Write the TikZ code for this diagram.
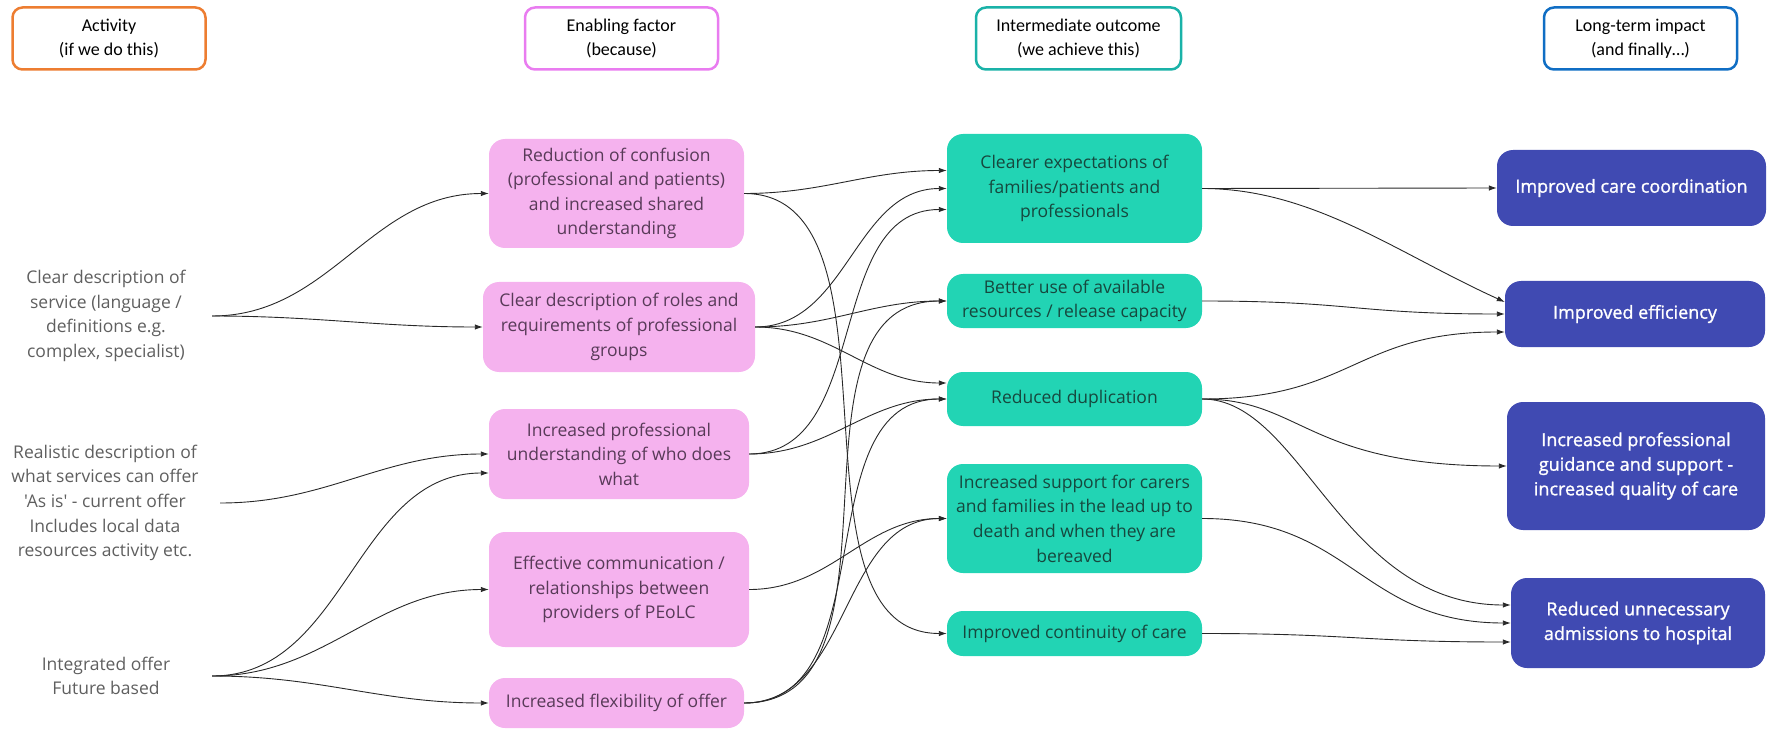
\documentclass[tikz,border=0pt]{standalone}
\usepackage{fontspec}
\setmainfont{Open Sans}
\newfontfamily\hdrfont{Carlito}
\newfontfamily\actfont{Open Sans}
\newfontfamily\bluefont[FakeBold=1.2]{Open Sans}
\usetikzlibrary{calc,arrows.meta}
\definecolor{pinkfill}{RGB}{245,178,238}
\definecolor{pinktext}{RGB}{88,58,88}
\definecolor{tealfill}{RGB}{34,212,180}
\definecolor{tealtext}{RGB}{22,72,62}
\definecolor{bluefill}{RGB}{64,74,178}
\definecolor{acttext}{RGB}{95,95,95}
\definecolor{horange}{RGB}{237,125,49}
\definecolor{hpink}{RGB}{233,124,240}
\definecolor{hteal}{RGB}{26,178,168}
\definecolor{hblue}{RGB}{16,110,196}
\definecolor{lincol}{RGB}{40,40,40}
\begin{document}
\begin{tikzpicture}[x=1pt,y=-1pt,
  hdr/.style={draw, line width=2.5pt, rounded corners=10pt, fill=white, font=\hdrfont\fontsize{18}{24}\selectfont, align=center, inner sep=0pt, minimum height=62pt},
  box/.style={rounded corners=16pt, align=center, inner sep=0pt, font=\fontsize{17.5}{24.6}\selectfont},
  pbox/.style={box, fill=pinkfill, text=pinktext},
  tbox/.style={box, fill=tealfill, text=tealtext},
  bbox/.style={box, fill=bluefill, text=white, font=\bluefont\fontsize{18}{24.6}\selectfont},
  act/.style={align=center, inner sep=0pt, text=acttext, font=\actfont\fontsize{17.5}{24.6}\selectfont},
  arr/.style={draw=lincol, line width=0.9pt, -{Latex[length=8pt,width=5.5pt]}},
  sc/.style={out=0, in=180},
]
\useasboundingbox (0,0) rectangle (1773,730);

% headers
\node[hdr, draw=horange, minimum width=193pt] (hA) at (109,38.5) {Activity\\(if we do this)};
\node[hdr, draw=hpink, minimum width=193pt] (hE) at (621.5,38.5) {Enabling factor\\(because)};
\node[hdr, draw=hteal, minimum width=205pt] (hI) at (1078.5,38.5) {Intermediate outcome\\(we achieve this)};
\node[hdr, draw=hblue, minimum width=193pt] (hL) at (1640.5,38.5) {Long-term impact\\(and finally…)};

% activities
\node[act, minimum width=212pt] (a1) at (106,316) {Clear description of\\service (language /\\definitions e.g.\\complex, specialist)};
\node[act, minimum width=230pt] (a2) at (105,503) {Realistic description of\\what services can offer\\'As is' - current offer\\Includes local data\\resources activity etc.};
\node[act, minimum width=212pt] (a3) at (106,676) {Integrated offer\\Future based};

% enabling factors
\node[pbox, minimum width=255pt, minimum height=109pt] (p1) at (616.5,193.5) {Reduction of confusion\\(professional and patients)\\and increased shared\\understanding};
\node[pbox, minimum width=272pt, minimum height=90pt] (p2) at (619,327) {Clear description of roles and\\requirements of professional\\groups};
\node[pbox, minimum width=260pt, minimum height=90pt] (p3) at (619,454) {Increased professional\\understanding of who does\\what};
\node[pbox, minimum width=260pt, minimum height=115pt] (p4) at (619,589.5) {Effective communication /\\relationships between\\providers of PEoLC};
\node[pbox, minimum width=255pt, minimum height=50pt] (p5) at (616.5,703) {Increased flexibility of offer};

% intermediate outcomes
\node[tbox, minimum width=255pt, minimum height=109pt] (t1) at (1074.5,188.5) {Clearer expectations of\\families/patients and\\professionals};
\node[tbox, minimum width=255pt, minimum height=54pt] (t2) at (1074.5,301) {Better use of available\\resources / release capacity};
\node[tbox, minimum width=255pt, minimum height=54pt] (t3) at (1074.5,399) {Reduced duplication};
\node[tbox, minimum width=255pt, minimum height=109pt] (t4) at (1074.5,518.5) {Increased support for carers\\and families in the lead up to\\death and when they are\\bereaved};
\node[tbox, minimum width=255pt, minimum height=45pt] (t5) at (1074.5,633.5) {Improved continuity of care};

% long-term impacts
\node[bbox, minimum width=269pt, minimum height=76pt] (b1) at (1631.5,188) {Improved care coordination};
\node[bbox, minimum width=260pt, minimum height=66pt] (b2) at (1635,314) {Improved efficiency};
\node[bbox, minimum width=258pt, minimum height=128pt] (b3) at (1636,466) {Increased professional\\guidance and support -\\increased quality of care};
\node[bbox, minimum width=254pt, minimum height=90pt] (b4) at (1638,623) {Reduced unnecessary\\admissions to hospital};

% activity -> enabling
\draw[arr] (a1.east) to[sc] (p1.west);
\draw[arr] (a1.east) to[sc] (p2.west);
\draw[arr] (a2.east) to[sc] (p3.west);
\draw[arr] (a3.east) to[sc] ($(p3.west)+(0,19)$);
\draw[arr] (a3.east) to[sc] (p4.west);
\draw[arr] (a3.east) to[sc] (p5.west);

% enabling -> intermediate
\draw[arr] (p1.east) to[sc] ($(t1.west)+(0,-18)$);
\draw[arr] (p1.east) .. controls +(170,0) and +(-170,0) .. (t5.west);
\draw[arr] (p2.east) to[sc] (t1.west);
\draw[arr] (p2.east) to[sc] (t2.west);
\draw[arr] (p2.east) to[sc] ($(t3.west)+(0,-16)$);
\draw[arr] (p3.east) to[sc] ($(t1.west)+(0,21)$);
\draw[arr] (p3.east) to[sc] (t3.west);
\draw[arr] (p4.east) to[sc] (t4.west);
\draw[arr] (p5.east) to[sc] (t2.west);
\draw[arr] (p5.east) to[sc] (t3.west);
\draw[arr] (p5.east) to[sc] (t4.west);

% intermediate -> long-term
\draw[arr] (t1.east) -- (b1.west);
\draw[arr] (t1.east) .. controls +(110,0) and +(-110,-50) .. ($(b2.west)+(0,-12)$);
\draw[arr] (t2.east) .. controls +(150,0) and +(-150,0) .. (b2.west);
\draw[arr] (t3.east) .. controls +(150,0) and +(-150,0) .. ($(b2.west)+(0,18)$);
\draw[arr] (t3.east) .. controls +(100,0) and +(-200,0) .. (b3.west);
\draw[arr] (t3.east) .. controls +(100,0) and +(-170,0) .. ($(b4.west)+(0,-18)$);
\draw[arr] (t4.east) .. controls +(150,0) and +(-150,0) .. (b4.west);
\draw[arr] (t5.east) .. controls +(150,0) and +(-150,0) .. ($(b4.west)+(0,19)$);
\end{tikzpicture}
\end{document}
